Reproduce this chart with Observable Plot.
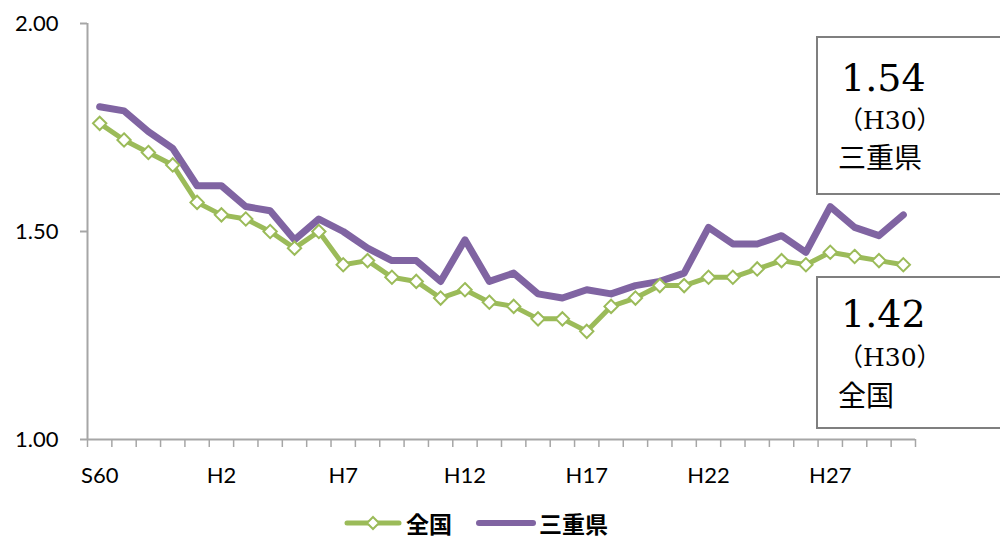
<!DOCTYPE html>
<html>
<head>
<meta charset="utf-8">
<script src="https://cdn.jsdelivr.net/npm/d3@7"></script>
<script src="https://cdn.jsdelivr.net/npm/@observablehq/plot@0.6"></script>
<style>
  html, body { margin: 0; padding: 0; background: #fff; }
  #wrap { position: relative; width: 1000px; height: 540px; overflow: hidden; }
  #legend { position: absolute; left: 0; top: 506px; width: 1000px; height: 34px;
    display: flex; align-items: center; justify-content: center;
    font-family: "Noto Sans CJK JP", sans-serif; font-weight: bold; font-size: 23px; line-height: 28px; color: #000; }
  #legend .item { display: flex; align-items: center; }
  #overlay { position: absolute; left: 0; top: 0; pointer-events: none; }
</style>
</head>
<body>
<div id="wrap">
  <div id="chart"></div>
  <div id="legend"></div>
  <svg id="overlay" width="1000" height="505"></svg>
</div>
<script>
// Categories (years): S60 ... H30
const years = ["S60","S61","S62","S63","H1","H2","H3","H4","H5","H6","H7","H8","H9","H10",
  "H11","H12","H13","H14","H15","H16","H17","H18","H19","H20","H21","H22","H23","H24",
  "H25","H26","H27","H28","H29","H30"];
// 全国 (national)
const zenkoku = [1.76,1.72,1.69,1.66,1.57,1.54,1.53,1.50,1.46,1.50,1.42,1.43,1.39,1.38,
  1.34,1.36,1.33,1.32,1.29,1.29,1.26,1.32,1.34,1.37,1.37,1.39,1.39,1.41,1.43,1.42,
  1.45,1.44,1.43,1.42];
// 三重県 (Mie)
const mie = [1.80,1.79,1.74,1.70,1.61,1.61,1.56,1.55,1.48,1.53,1.50,1.46,1.43,1.43,
  1.38,1.48,1.38,1.40,1.35,1.34,1.36,1.35,1.37,1.38,1.40,1.51,1.47,1.47,1.49,1.45,
  1.56,1.51,1.49,1.54];
const yTicks = [1.0, 1.5, 2.0];
const labeledYears = ["S60","H2","H7","H12","H17","H22","H27"];

const green = "#9bbb59", purple = "#8064a2", axisGray = "#a6a6a6";

const rowsZ = zenkoku.map((v, i) => ({year: years[i], i, v}));
const rowsM = mie.map((v, i) => ({year: years[i], i, v}));

const chart = Plot.plot({
  width: 1000,
  height: 505,
  marginTop: 23,
  marginBottom: 66,
  marginLeft: 87,
  marginRight: 85,
  style: {fontFamily: "Lato, 'Liberation Sans', sans-serif", fontSize: "22px", color: "#000", background: "#fff", overflow: "visible"},
  x: {type: "linear", domain: [0, years.length], label: null},
  y: {domain: [1, 2], label: null},
  marks: [
    Plot.axisY({ticks: yTicks, tickFormat: d => d.toFixed(2), tickSize: 7, tickPadding: 22,
      stroke: axisGray, strokeWidth: 2, fill: "#000", fontSize: 22, label: null}),
    Plot.ruleX([0], {y1: 1, y2: 2, stroke: axisGray, strokeWidth: 2}),
    Plot.ruleY([1], {stroke: axisGray, strokeWidth: 2}),
    Plot.axisX({ticks: d3.range(years.length + 1), tickFormat: () => "", tickSize: 8,
      stroke: axisGray, strokeWidth: 1.5, label: null}),
    Plot.axisX({ticks: labeledYears.map(y => years.indexOf(y) + 0.5),
      tickFormat: d => years[Math.floor(d)], tickSize: 0, tickPadding: 28,
      fill: "#000", fontSize: 22, label: null}),
    Plot.line(rowsM, {x: d => d.i + 0.5, y: "v", stroke: purple, strokeWidth: 7, strokeLinejoin: "round", strokeLinecap: "round"}),
    Plot.line(rowsZ, {x: d => d.i + 0.5, y: "v", stroke: green, strokeWidth: 5, strokeLinejoin: "round"}),
    Plot.dot(rowsZ, {x: d => d.i + 0.5, y: "v", symbol: "diamond2", r: 6, fill: "#fff", stroke: green, strokeWidth: 2})
  ]
});
document.getElementById("chart").appendChild(chart);

// Legend
const legend = d3.select("#legend");
const inner = legend.append("div").style("display", "flex").style("align-items", "center").style("margin-right", "48px");
const it1 = inner.append("div").attr("class", "item");
const s1 = it1.append("svg").attr("width", 58).attr("height", 16).style("margin-right", "4px");
s1.append("line").attr("x1", 3).attr("x2", 55).attr("y1", 8).attr("y2", 8).attr("stroke", green).attr("stroke-width", 5).attr("stroke-linecap", "round");
s1.append("path").attr("d", "M29,2 L35,8 L29,14 L23,8 Z").attr("fill", "#fff").attr("stroke", green).attr("stroke-width", 2);
it1.append("span").text("全国");
const it2 = inner.append("div").attr("class", "item").style("margin-left", "24px");
const s2 = it2.append("svg").attr("width", 60).attr("height", 16).style("margin-right", "3px");
s2.append("line").attr("x1", 3).attr("x2", 57).attr("y1", 8).attr("y2", 8).attr("stroke", purple).attr("stroke-width", 6).attr("stroke-linecap", "round");
it2.append("span").text("三重県");

// Annotation boxes
const ov = d3.select("#overlay");
function box(top, h, value, name, b) {
  ov.append("rect").attr("x", 817).attr("y", top).attr("width", 200).attr("height", h)
    .attr("fill", "#fff").attr("stroke", "#7f7f7f").attr("stroke-width", 2);
  ov.append("text").attr("x", 841).attr("y", b[0]).text(value.toFixed(2))
    .style("font-family", "'DejaVu Serif', serif").style("font-size", "38px").attr("fill", "#000");
  ov.append("text").attr("x", 838).attr("y", b[1]).text("（" + years[years.length - 1] + "）")
    .style("font-family", "'DejaVu Serif', 'Noto Sans CJK JP', serif").style("font-size", "25px").attr("fill", "#000");
  ov.append("text").attr("x", 838).attr("y", b[2]).text(name)
    .style("font-family", "'Noto Sans CJK JP', sans-serif").style("font-size", "28px").attr("fill", "#000");
}
box(37, 157, mie[mie.length - 1], "三重県", [91, 129, 168]);
box(277, 151, zenkoku[zenkoku.length - 1], "全国", [327, 366, 406]);
</script>
</body>
</html>
